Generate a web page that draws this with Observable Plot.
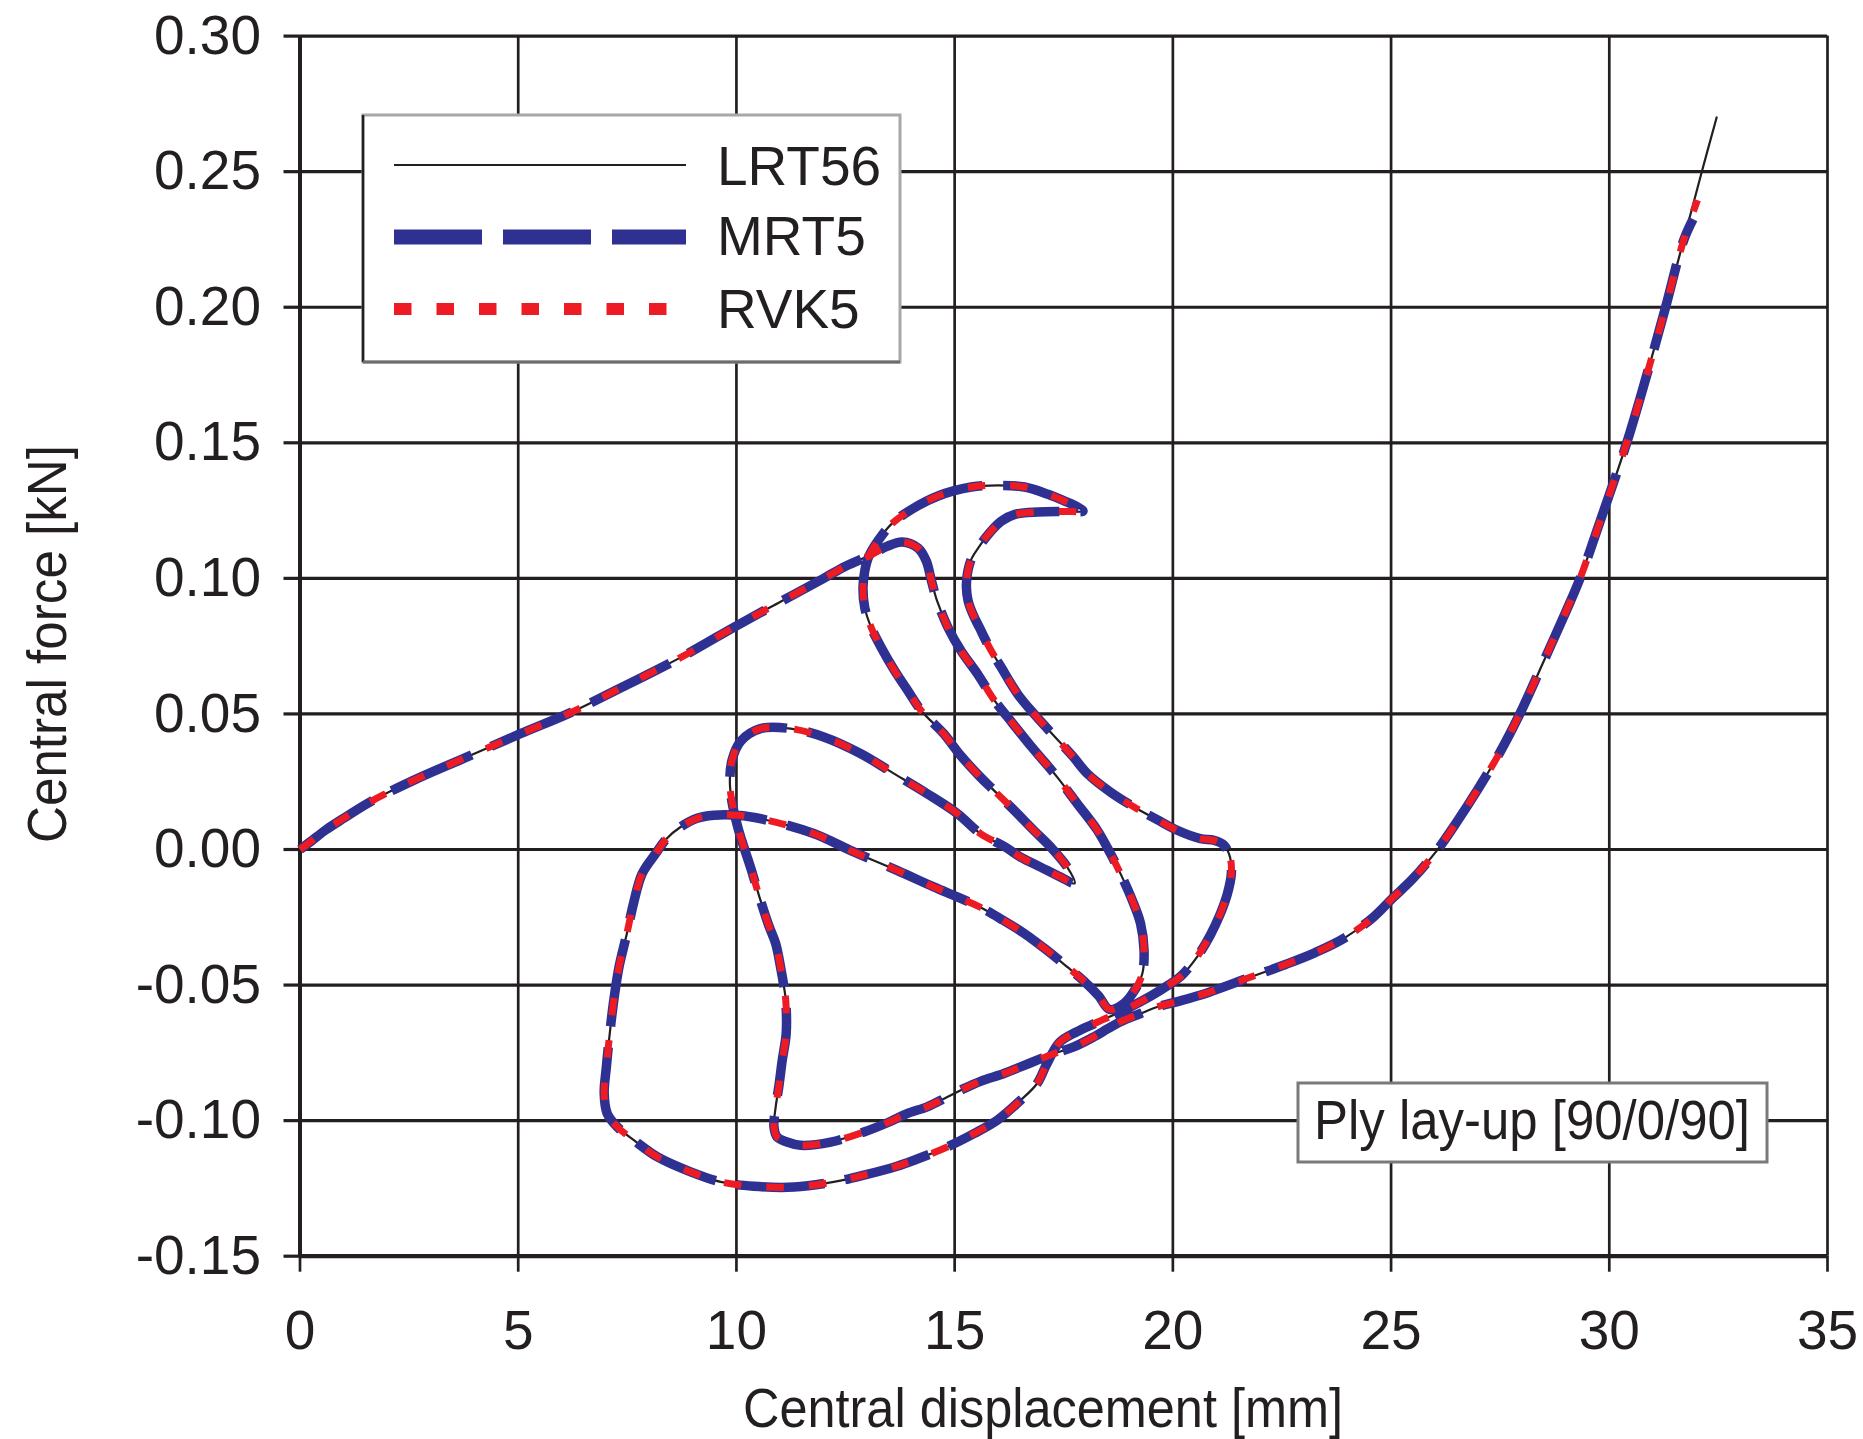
<!DOCTYPE html>
<html><head><meta charset="utf-8">
<script src="https://cdn.jsdelivr.net/npm/d3@7"></script>
<script src="https://cdn.jsdelivr.net/npm/@observablehq/plot@0.6"></script>
<style>html,body{margin:0;padding:0;background:#fff;overflow:hidden}#chart svg{display:block}</style>
</head><body><div id="chart"></div>
<script>
// ---- tick values ----
const xTicks = [0, 5, 10, 15, 20, 25, 30, 35];
const yTicks = [-0.15, -0.10, -0.05, 0, 0.05, 0.10, 0.15, 0.20, 0.25, 0.30];

// ---- series names ----
const seriesNames = ["LRT56", "MRT5", "RVK5"];

// ---- equilibrium path (shared by all three models), in path order ----
// 1. loading branch from origin, small peak, descent to cusp
const riseX = [0, 0.25, 0.58, 1.0, 1.6, 2.6, 3.65, 5.05, 6.2, 7.4, 8.8, 10.0, 11.0, 12.0, 12.5, 13.1, 13.45, 13.8, 14.16, 14.35, 14.47, 14.6, 14.85, 15.15, 15.53, 15.92, 16.33, 16.78, 17.35, 17.81, 18.27, 18.57, 18.8, 19.07, 19.26, 19.34, 19.3, 19.12, 18.9, 18.55];
const riseY = [0, 0.003, 0.0071, 0.0115, 0.0175, 0.0255, 0.0329, 0.0427, 0.0505, 0.060, 0.0715, 0.0825, 0.0913, 0.100, 0.1045, 0.1088, 0.1118, 0.1134, 0.1112, 0.1064, 0.099, 0.0916, 0.0818, 0.0732, 0.0646, 0.0548, 0.0465, 0.0375, 0.0267, 0.0169, 0.0071, -0.0015, -0.0089, -0.0187, -0.0273, -0.0372, -0.0458, -0.052, -0.0565, -0.059];
// 2. large lower-left loop
const bigLoopX = [18.3, 17.96, 17.58, 17.1, 16.6, 16.1, 15.59, 15.06, 14.52, 13.68, 12.69, 11.77, 10.71, 10.02, 9.48, 9.1, 8.72, 8.4, 8.15, 7.84, 7.64, 7.49, 7.31, 7.19, 7.08, 7.02, 6.97, 7.04, 7.27, 7.65, 8.19, 8.95, 9.64, 10.4, 11.32, 12.23, 12.92, 13.68, 14.07, 14.83, 15.44, 15.98, 16.51, 16.89, 17.1];
const bigLoopY = [-0.054, -0.0485, -0.0433, -0.037, -0.031, -0.026, -0.0213, -0.0175, -0.0138, -0.0077, -0.0009, 0.0059, 0.0108, 0.0126, 0.0126, 0.0115, 0.0083, 0.004, -0.0015, -0.0089, -0.020, -0.031, -0.0433, -0.0556, -0.0704, -0.0802, -0.090, -0.0974, -0.1023, -0.1072, -0.1134, -0.1189, -0.1226, -0.1242, -0.1245, -0.1226, -0.1201, -0.1168, -0.1146, -0.1097, -0.1048, -0.0998, -0.0925, -0.0863, -0.0795];
// 3. right bulge and inner strand up to the crown tip
const rightX = [17.4, 17.8, 18.2, 18.95, 19.5, 19.9, 20.2, 20.56, 20.86, 21.09, 21.25, 21.34, 21.31, 21.17, 20.94, 20.63, 20.1, 19.64, 19.11, 18.57, 18.04, 17.7, 17.3, 16.82, 16.45, 16.07, 15.8, 15.57, 15.42, 15.31, 15.27, 15.29, 15.38, 15.57, 15.8, 16.07, 16.38, 16.91, 17.52, 17.94];
const rightY = [-0.0712, -0.0672, -0.0642, -0.0587, -0.054, -0.050, -0.0465, -0.0395, -0.0315, -0.0236, -0.0163, -0.0089, -0.0028, 0.0016, 0.0034, 0.004, 0.0071, 0.011, 0.0157, 0.0212, 0.028, 0.0345, 0.0415, 0.050, 0.0572, 0.0671, 0.0744, 0.0818, 0.0867, 0.0916, 0.0966, 0.1015, 0.107, 0.1119, 0.1168, 0.1211, 0.1236, 0.1245, 0.1247, 0.1248];
// 4. crown top arc and descending strand to the V tip
const crownX = [17.83, 17.52, 17.14, 16.6, 15.99, 15.38, 14.62, 14.01, 13.55, 13.24, 13.03, 12.94, 12.9, 12.94, 13.09, 13.32, 13.63, 13.93, 14.24, 14.75, 15.12, 15.59, 15.9, 16.36, 16.81, 17.2, 17.58, 17.75];
const crownY = [0.1262, 0.1285, 0.131, 0.1337, 0.1343, 0.1337, 0.1304, 0.1254, 0.120, 0.1138, 0.108, 0.1027, 0.0966, 0.0892, 0.0818, 0.0744, 0.0658, 0.0585, 0.0511, 0.0427, 0.035, 0.0267, 0.0218, 0.0145, 0.0071, 0.0009, -0.0065, -0.0125];
// 5. middle loop, lower inner strand and start of the stiffening branch
const middleX = [17.43, 16.97, 16.51, 16.15, 15.59, 15.06, 14.37, 13.61, 12.84, 12.0, 11.24, 10.55, 10.1, 9.9, 9.85, 9.92, 10.03, 10.12, 10.32, 10.55, 10.74, 10.9, 11.01, 11.09, 11.13, 11.14, 11.05, 10.97, 10.9, 10.86, 10.93, 11.16, 11.47, 12.16, 12.92, 13.5, 13.91, 14.37, 14.83, 15.21, 15.59, 16.13, 16.51, 16.89, 17.27, 17.73, 18.19, 18.5, 18.8, 19.26, 19.64, 20.13, 20.8, 21.69, 22.58, 23.25, 23.92, 24.59, 25.03, 25.48, 26.04];
const middleY = [-0.0102, -0.0065, -0.0028, 0.001, 0.0059, 0.0133, 0.0206, 0.028, 0.0354, 0.0415, 0.0446, 0.0446, 0.040, 0.033, 0.0243, 0.0157, 0.0083, 0.0034, -0.0064, -0.0187, -0.028, -0.0347, -0.0433, -0.0507, -0.0556, -0.0679, -0.0777, -0.0876, -0.0949, -0.1023, -0.106, -0.1079, -0.1091, -0.1079, -0.1042, -0.1005, -0.0974, -0.0949, -0.0913, -0.0882, -0.0855, -0.0826, -0.0802, -0.0777, -0.0753, -0.0728, -0.0691, -0.0662, -0.0635, -0.0605, -0.0581, -0.056, -0.0528, -0.0476, -0.0424, -0.0381, -0.0328, -0.025, -0.018, -0.0111, -0.0006];
// 6. final stiffening branch
const finalX = [26.5, 27.0, 27.5, 27.95, 28.5, 29.0, 29.33, 29.8, 30.4, 30.85, 31.29, 31.7];
const finalY = [0.010, 0.0225, 0.036, 0.050, 0.0695, 0.0875, 0.100, 0.1215, 0.150, 0.1745, 0.200, 0.2245];
// ---- end points where each model's curve stops ----
const lrt56TailX = [32.12, 32.46];
const lrt56TailY = [0.250, 0.270];
const mrt5TailX = [31.92];
const mrt5TailY = [0.2325];
const rvk5TailX = [32.02];
const rvk5TailY = [0.2395];

// ---- build tables ----
const pts = (xs, ys) => xs.map((x, i) => ({x, y: ys[i]}));
const shared = [
  ...pts(riseX, riseY), ...pts(bigLoopX, bigLoopY), ...pts(rightX, rightY),
  ...pts(crownX, crownY), ...pts(middleX, middleY), ...pts(finalX, finalY)
];
const lrt56 = [...shared, ...pts(lrt56TailX, lrt56TailY)];
const mrt5 = [...shared, ...pts(mrt5TailX, mrt5TailY)];
const rvk5 = [...shared, ...pts(rvk5TailX, rvk5TailY)];

const INK = "#231f20", BLUE = "#2e3192", RED = "#ed1c24";
const FONT = "'Liberation Sans', Arial, Helvetica, sans-serif";

const plot = Plot.plot({
  width: 1863, height: 1439,
  marginLeft: 299.5, marginRight: 36, marginTop: 35.6, marginBottom: 183.3,
  x: {domain: [0, 35]},
  y: {domain: [-0.15, 0.30]},
  style: {fontFamily: FONT, color: INK, background: "#fff", overflow: "visible"},
  marks: [
    Plot.ruleX(xTicks, {stroke: INK, strokeWidth: 2.7}),
    Plot.ruleY(yTicks, {stroke: INK, strokeWidth: 3.2}),
    Plot.ruleX([0], {stroke: INK, strokeWidth: 4}),
    Plot.ruleY([-0.15], {stroke: INK, strokeWidth: 4.2}),
    Plot.axisX({ticks: xTicks, tickSize: 16, tickPadding: 38, tickFormat: d => String(d), label: null, fontSize: 55, strokeWidth: 2.7}),
    Plot.axisY({ticks: yTicks, tickSize: 16, tickPadding: 23, tickFormat: d => d.toFixed(2), label: null, fontSize: 55, strokeWidth: 3.2}),
    Plot.line(lrt56, {x: "x", y: "y", curve: "catmull-rom", stroke: INK, strokeWidth: 2.2}),
    Plot.line(mrt5, {x: "x", y: "y", curve: "catmull-rom", stroke: BLUE, strokeWidth: 9.5, strokeDasharray: "88,21", strokeLinecap: "butt", strokeLinejoin: "round"}),
    Plot.line(rvk5, {x: "x", y: "y", curve: "catmull-rom", stroke: RED, strokeWidth: 7, strokeDasharray: "17.5,25", strokeLinecap: "butt", strokeLinejoin: "round"})
  ]
});
document.getElementById("chart").append(plot);

// ---- axis titles, legend and annotation ----
const svg = d3.select(plot);
const g = svg.append("g").attr("font-family", FONT).attr("fill", INK).attr("text-anchor", "start");
g.append("text").attr("x", 743).attr("y", 1427).attr("font-size", 55).attr("text-anchor", "start")
  .attr("textLength", 600).attr("lengthAdjust", "spacingAndGlyphs")
  .text("Central displacement [mm]");
g.append("text").attr("transform", "translate(66,644) rotate(-90)").attr("text-anchor", "middle")
  .attr("font-size", 55).attr("textLength", 398).attr("lengthAdjust", "spacingAndGlyphs")
  .text("Central force [kN]");

// legend
const lg = g.append("g");
lg.append("rect").attr("x", 363).attr("y", 115).attr("width", 537).attr("height", 247)
  .attr("fill", "#fff").attr("stroke", "#a8a8a8").attr("stroke-width", 3);
lg.append("line").attr("x1", 363).attr("x2", 363).attr("y1", 115).attr("y2", 362).attr("stroke", INK).attr("stroke-width", 2.5);
lg.append("line").attr("x1", 363).attr("x2", 900).attr("y1", 362).attr("y2", 362).attr("stroke", "#6d6d6d").attr("stroke-width", 3);
const legendStyles = [
  {stroke: INK, width: 2, dash: null, x2: 686, y: 165, ty: 185},
  {stroke: BLUE, width: 15, dash: "88,21", x2: 686, y: 237, ty: 255},
  {stroke: RED, width: 12, dash: "17.5,25", x2: 670, y: 309, ty: 328}
];
seriesNames.forEach((name, i) => {
  const s = legendStyles[i];
  const l = lg.append("line").attr("x1", 394).attr("x2", s.x2).attr("y1", s.y).attr("y2", s.y)
    .attr("stroke", s.stroke).attr("stroke-width", s.width);
  if (s.dash) l.attr("stroke-dasharray", s.dash);
  lg.append("text").attr("x", 717).attr("y", s.ty).attr("font-size", 55).attr("text-anchor", "start").text(name);
});

// annotation box
g.append("rect").attr("x", 1298).attr("y", 1083).attr("width", 469).attr("height", 79)
  .attr("fill", "#fff").attr("stroke", "#7a7a7a").attr("stroke-width", 3);
g.append("text").attr("x", 1314).attr("y", 1139).attr("font-size", 55).attr("text-anchor", "start")
  .attr("textLength", 436).attr("lengthAdjust", "spacingAndGlyphs")
  .text("Ply lay-up [90/0/90]");
</script></body></html>
